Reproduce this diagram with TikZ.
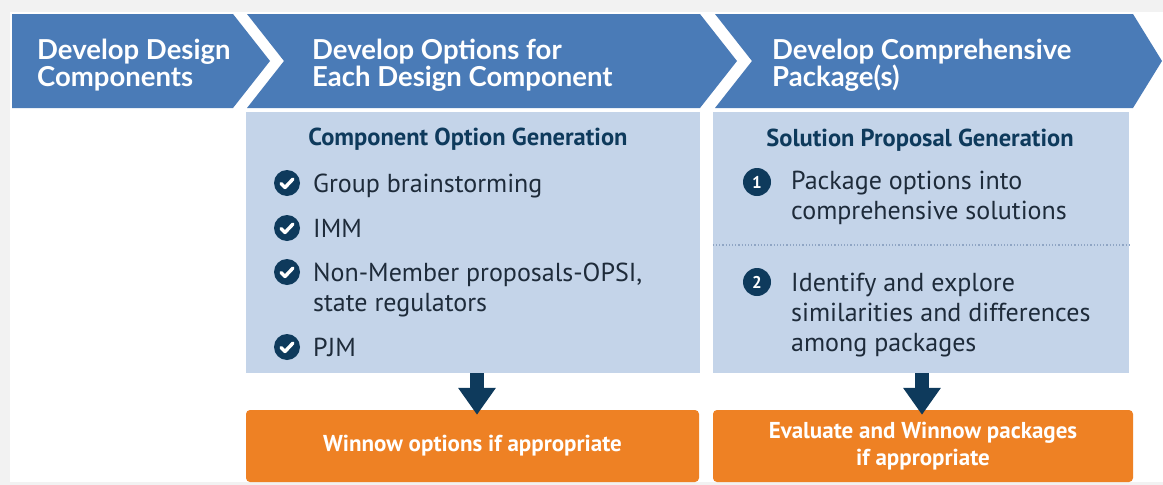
\documentclass[tikz,border=0pt]{standalone}
\usepackage{fontspec}
\setmainfont{PT Sans}
\newfontfamily\headfont{Lato}
\usepackage{xcolor}
\definecolor{PJMblue}{HTML}{4A7BB7}
\definecolor{PJMlight}{HTML}{C4D4E9}
\definecolor{PJMnavy}{HTML}{0E3A5C}
\definecolor{PJMorange}{HTML}{EE8124}
\definecolor{PJMtext}{HTML}{1E2B3A}
\definecolor{PJMgray}{HTML}{F2F2F2}
\definecolor{PJMdots}{HTML}{8FA5C4}
\usetikzlibrary{calc, arrows.meta, positioning}

\begin{document}
\begin{tikzpicture}[x=1pt, y=-1pt]
    \tikzset{
  chev/.style={fill=PJMblue},
  headtext/.style={text=white, font=\headfont\bfseries\fontsize{27.5}{27}\selectfont, align=left, anchor=west, inner sep=0pt},
  panel/.style={fill=PJMlight, inner sep=0pt},
  paneltitle/.style={text=PJMnavy, font=\bfseries\fontsize{24.5}{26}\selectfont, anchor=base, inner sep=0pt},
  item/.style={text=PJMtext, font=\fontsize{26}{30}\selectfont, align=left, anchor=base west, inner sep=0pt},
  numdot/.style={circle, fill=PJMnavy, text=white, font=\bfseries\fontsize{17}{17}\selectfont, minimum size=28pt, inner sep=0pt},
  winbox/.style={fill=PJMorange, rounded corners=4pt, text=white, font=\bfseries\fontsize{23}{27}\selectfont, align=center, inner sep=0pt},
  blockarrow/.style={PJMnavy, line width=14pt, -{Triangle[width=36pt, length=27pt]}},
  chk/.pic={
    \fill[PJMnavy] (0,0) circle[radius=13];
    \draw[white, line width=3.4pt, line cap=round, line join=round] (-6,0.5) -- (-2,4.5) -- (6,-4);
  },
}
  \useasboundingbox (0,0) rectangle (1163,485);
  % Page background
  \fill[PJMgray] (0,0) rectangle (1163,485);
  \fill[white] (10,12) rectangle (1163,482);

  % Header chevrons
  \fill[chev] (12,14) -- (233,14) -- (270,61) -- (233,108) -- (12,108) -- cycle;
  \fill[chev] (247,14) -- (700,14) -- (737,61) -- (700,108) -- (247,108) -- (284,61) -- cycle;
  \fill[chev] (715,14) -- (1133,14) -- (1162,61) -- (1133,108) -- (715,108) -- (752,61) -- cycle;
  \node[headtext] (hA) at (37,65) {Develop Design\\Components};
  \node[headtext] (hB) at (312,65) {Develop Options for\\Each Design Component};
  \node[headtext] (hC) at (772,65) {Develop Comprehensive\\Package(s)};

  % Light panels
  \node[panel, minimum width=454pt, minimum height=261pt] (panelA) at (473,242.5) {};
  \node[panel, minimum width=416pt, minimum height=261pt] (panelB) at (921,242.5) {};

  % Component options
  \node[paneltitle] (tA) at (468,145) {Component Option Generation};
  \pic at (287,183) {chk};
  \node[item] (i1) at (313,192) {Group brainstorming};
  \pic at (287,228) {chk};
  \node[item] (i2) at (313,237) {IMM};
  \pic at (287,272) {chk};
  \node[item] (i3) at (313,311) {Non-Member proposals-OPSI,\\state regulators};
  \pic at (287,347) {chk};
  \node[item] (i4) at (313,356) {PJM};

  % Solution proposals
  \node[paneltitle] (tB) at (920,146) {Solution Proposal Generation};
  \node[numdot] (n1) at (757,182) {1};
  \node[item] (s1) at (791,219) {Package options into\\comprehensive solutions};
  \draw[PJMdots, dotted, line width=1.2pt] (panelB.west |- 0,245) -- (panelB.east |- 0,245);
  \node[numdot] (n2) at (757,282) {2};
  \node[item] (s2) at (791,351) {Identify and explore\\similarities and differences\\among packages};

  % Winnow boxes
  \node[winbox, minimum width=453pt, minimum height=72pt] (winA) at (472.5,446) {Winnow options if appropriate};
  \node[winbox, minimum width=420pt, minimum height=72pt] (winB) at (923,446) {Evaluate and Winnow packages\\if appropriate};

  % Down arrows
  \coordinate (aA) at (477,0);
  \coordinate (aB) at (922,0);
  \draw[blockarrow] (panelA.south -| aA) -- ($(winA.north -| aA)+(0,5)$);
  \draw[blockarrow] (panelB.south -| aB) -- ($(winB.north -| aB)+(0,5)$);
\end{tikzpicture}
\end{document}
